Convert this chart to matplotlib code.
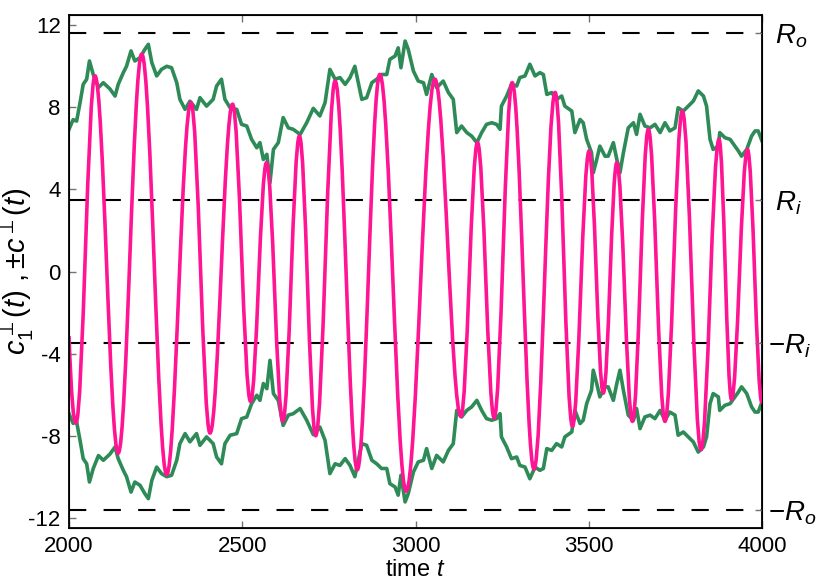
import numpy as np
import matplotlib
matplotlib.use('Agg')
import matplotlib.pyplot as plt
from matplotlib.path import Path
from matplotlib.patches import PathPatch

plt.rcParams['font.family'] = ['Liberation Sans', 'DejaVu Sans']
plt.rcParams['mathtext.fontset'] = 'custom'
plt.rcParams['mathtext.rm'] = 'Liberation Sans'
plt.rcParams['mathtext.it'] = 'Liberation Sans:italic'
plt.rcParams['mathtext.sf'] = 'Liberation Sans'
plt.rcParams['mathtext.fallback'] = 'stixsans'
plt.rcParams['axes.unicode_minus'] = False

# radii (dashed guide lines)
R_o = 11.6
R_i = 3.5

# envelope c(t) (lower branch is -c)
green_t = [2000, 2012, 2022, 2032, 2041, 2051, 2059, 2070, 2085, 2099, 2118, 2133, 2142, 2157,
           2166, 2179, 2190, 2205, 2219, 2229, 2239, 2253, 2267, 2282, 2296, 2311, 2320, 2335,
           2349, 2368, 2378, 2397, 2416, 2426, 2440, 2450, 2465, 2484, 2498, 2513, 2527, 2542,
           2551, 2561, 2571, 2580, 2590, 2604, 2618, 2633, 2647, 2667, 2686, 2705, 2724, 2739,
           2753, 2768, 2782, 2797, 2811, 2825, 2835, 2845, 2859, 2874, 2888, 2902, 2917, 2926,
           2941, 2950, 2958, 2970, 2979, 2994, 3008, 3023, 3032, 3047, 3061, 3080, 3095, 3109,
           3119, 3133, 3148, 3162, 3177, 3191, 3205, 3220, 3234, 3244, 3248, 3263, 3277, 3292,
           3301, 3316, 3330, 3345, 3359, 3369, 3379, 3393, 3407, 3422, 3431, 3451, 3460, 3475,
           3484, 3494, 3508, 3513, 3523, 3532, 3547, 3556, 3571, 3581, 3590, 3600, 3614, 3629,
           3638, 3648, 3662, 3677, 3691, 3706, 3720, 3734, 3749, 3758, 3773, 3787, 3802, 3816,
           3831, 3840, 3850, 3859, 3874, 3878, 3893, 3908, 3922, 3932, 3941, 3956, 3970, 3980,
           3989, 4000]
green_v = [6.93, 7.40, 7.33, 8.24, 9.12, 9.37, 10.26, 9.60, 8.97, 9.20, 8.90, 8.55, 9.12, 9.70,
           10.00, 10.75, 10.26, 10.42, 10.83, 11.07, 10.18, 9.53, 9.85, 10.00, 9.93, 9.20, 8.39, 7.90,
           8.30, 7.90, 8.47, 8.06, 8.39, 9.04, 9.37, 8.39, 7.98, 7.90, 7.17, 7.09, 6.44, 6.03,
           6.28, 5.46, 5.71, 4.33, 5.95, 6.28, 7.50, 7.00, 6.93, 6.68, 7.25, 7.95, 7.58, 8.23,
           9.85, 9.37, 9.45, 9.12, 9.45, 10.00, 9.20, 8.39, 8.47, 9.20, 9.37, 9.60, 9.60, 10.34,
           10.50, 10.90, 9.93, 11.23, 10.83, 9.77, 9.28, 9.20, 8.63, 9.60, 8.96, 9.28, 8.72, 8.39,
           6.77, 7.09, 6.77, 6.60, 6.28, 6.77, 7.17, 7.25, 7.17, 6.93, 8.06, 8.55, 9.12, 9.04,
           9.45, 9.53, 10.10, 9.53, 9.69, 9.60, 8.63, 8.72, 8.39, 8.55, 8.06, 7.82, 6.77, 7.41,
           7.25, 6.44, 5.79, 4.81, 5.46, 6.11, 5.62, 5.62, 6.28, 5.46, 4.81, 5.79, 7.00, 7.25,
           6.68, 7.66, 7.09, 7.00, 7.17, 6.77, 7.25, 6.85, 7.00, 7.98, 7.82, 8.06, 8.31, 8.80,
           8.55, 8.06, 6.44, 5.95, 6.11, 6.77, 6.52, 6.44, 6.11, 5.87, 5.62, 5.95, 6.60, 6.85,
           6.85, 6.36]

# c1(t): start value, then successive troughs / crests
pink_t = [2000, 2020, 2075, 2142, 2210, 2282, 2352, 2407, 2472, 2524, 2570, 2617, 2665, 2712,
          2768, 2832, 2897, 2973, 3056, 3131, 3179, 3227, 3279, 3342, 3403, 3453, 3501, 3542,
          3581, 3626, 3672, 3720, 3770, 3824, 3876, 3912, 3958, 4000]
pink_v = [-3.15, -7.38, 9.53, -8.85, 10.59, -9.9, 8.23, -7.87, 8.15, -6.33, 5.3, -7.3, 6.6, -8.0,
          9.28, -9.66, 9.6, -10.7, 9.37, -7.06, 6.28, -7.14, 9.2, -9.63, 8.72, -7.54, 5.87, -5.92,
          5.3, -7.3, 6.93, -7.3, 7.82, -8.68, 6.44, -6.24, 5.95, -6.4]
start_slope = -0.44

fig = plt.figure(figsize=(8.3, 5.81), dpi=100)
ax = fig.add_axes([69/830, 1-528/581, 693/830, 513/581])

for r in [R_o, R_i, -R_i, -R_o]:
    ax.plot([2000, 4000], [r, r], color='black', lw=1.5, dashes=(8.3, 8.3), zorder=1)

ax.plot(green_t, green_v, color='#2e8b57', lw=2.6, zorder=2)
ax.plot(green_t, [-v for v in green_v], color='#2e8b57', lw=2.6, zorder=2)

# smooth half-waves between extrema (cubic bezier, flat at the turning points)
k = 0.3634
verts = [(pink_t[0], pink_v[0])]
codes = [Path.MOVETO]
for i in range(len(pink_t) - 1):
    dt = pink_t[i+1] - pink_t[i]
    if i == 0:
        p1 = (pink_t[0] + dt/3, pink_v[0] + start_slope*dt/3)
    else:
        p1 = (pink_t[i] + k*dt, pink_v[i])
    p2 = (pink_t[i+1] - k*dt, pink_v[i+1])
    verts += [p1, p2, (pink_t[i+1], pink_v[i+1])]
    codes += [Path.CURVE4]*3
ax.add_patch(PathPatch(Path(verts, codes), fill=False, edgecolor='#ff1493', lw=2.6, zorder=3))

ax.set_xlim(2000, 4000)
ax.set_ylim(-12.5, 12.5)
ax.set_xticks([2000, 2500, 3000, 3500, 4000])
ax.set_yticks([-12, -8, -4, 0, 4, 8, 12])
ax.tick_params(direction='in', length=5, width=1, color='0.45', labelsize=16,
               top=True, right=False, pad=6)
for s in ax.spines.values():
    s.set_linewidth(1.3)

ax2 = ax.twinx()
ax2.set_ylim(-12.5, 12.5)
ax2.set_yticks([R_o, R_i, -R_i, -R_o])
ax2.set_yticklabels([' $R_o$', ' $R_i$', '$-R_i$', '$-R_o$'])
ax2.tick_params(direction='in', length=5, width=1, color='0.45', labelsize=20, pad=4)

ax.set_xlabel('time $t$', fontsize=17)
ax.xaxis.set_label_coords(0.5, -0.06)
ax.set_ylabel(r'$c_1^{\perp}(t)\ ,{\pm}c^{\perp}(t)$', fontsize=21)
ax.yaxis.set_label_coords(-0.047, 0.5)

fig.savefig('out.png', dpi=100)
